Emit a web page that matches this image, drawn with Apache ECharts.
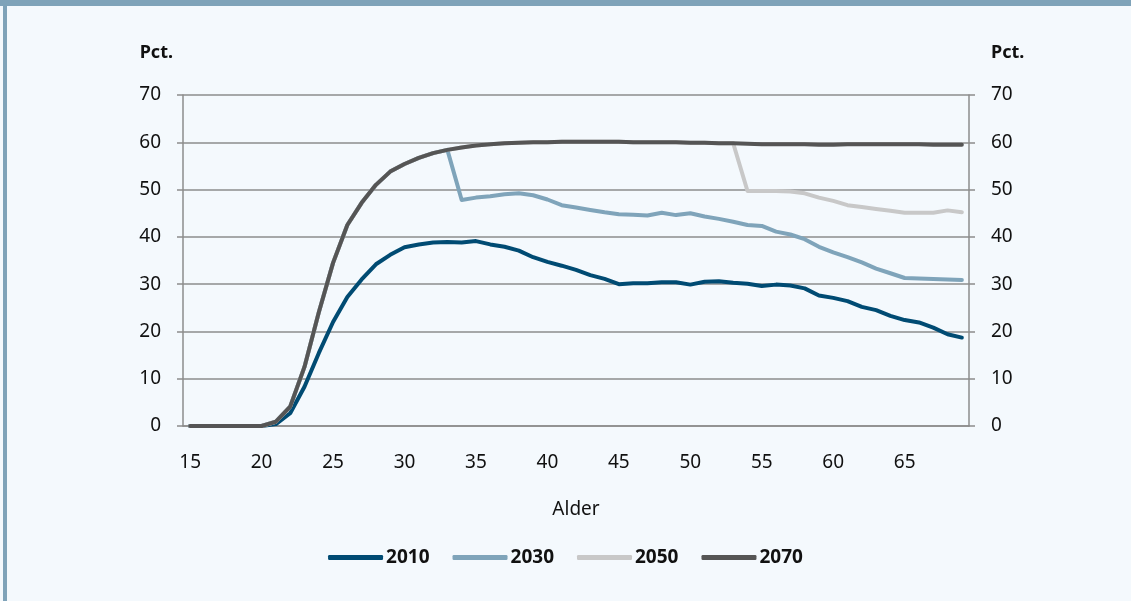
<!DOCTYPE html>
<html>
<head>
<meta charset="utf-8">
<style>
	body { margin: 0; }
	.frame {
		position: relative;
		width: 1131px;
		height: 601px;
		background: #f4f9fd;
		overflow: hidden;
	}
	.frame .bar-top {
		position: absolute;
		left: 0; top: 0;
		width: 100%; height: 6px;
		background: #7fa3b9;
	}
	.frame .bar-left {
		position: absolute;
		left: 3px; top: 0;
		width: 4px; height: 100%;
		background: #7fa3b9;
	}
	#chart { position: absolute; left: 0; top: 0; width: 1131px; height: 601px; }
</style>
<script src="https://cdn.jsdelivr.net/npm/echarts@6/dist/echarts.min.js"></script>
</head>
<body>
<div class="frame">
	<div class="bar-top"></div>
	<div class="bar-left"></div>
	<div id="chart"></div>
</div>
<script>
	// Alder 15-69
	var ages = ['15','16','17','18','19','20','21','22','23','24','25','26','27','28','29','30','31','32','33','34','35','36','37','38','39','40','41','42','43','44','45','46','47','48','49','50','51','52','53','54','55','56','57','58','59','60','61','62','63','64','65','66','67','68','69']

	var s2010 = [0,0,0,0,0,0,0.4,2.7,8.3,15.4,22,27.3,31,34.2,36.2,37.8,38.4,38.8,38.9,38.8,39.1,38.4,37.9,37.1,35.7,34.7,33.9,33,31.9,31.1,30,30.2,30.2,30.4,30.4,29.9,30.5,30.6,30.3,30.1,29.6,29.9,29.7,29.1,27.6,27.1,26.4,25.2,24.5,23.3,22.4,21.9,20.8,19.4,18.7]

	var s2030 = [0,0,0,0,0,0,0.9,4.1,12.5,24,34.5,42.5,47.2,51,53.8,55.4,56.7,57.7,58.4,47.8,48.3,48.6,49,49.2,48.8,47.9,46.7,46.2,45.7,45.2,44.8,44.7,44.5,45.1,44.6,45,44.3,43.8,43.2,42.5,42.3,41.1,40.5,39.5,37.9,36.7,35.7,34.6,33.3,32.3,31.3,31.2,31.1,31,30.9]

	var s2050 = [0,0,0,0,0,0,0.9,4.1,12.5,24,34.5,42.5,47.2,51,53.8,55.4,56.7,57.7,58.4,58.9,59.3,59.6,59.8,59.9,60,60,60.1,60.1,60.1,60.1,60.1,60,60,60,60,59.9,59.9,59.8,59.8,49.7,49.7,49.7,49.6,49.2,48.3,47.6,46.7,46.3,45.9,45.5,45.1,45.1,45.1,45.6,45.2]

	var s2070 = [0,0,0,0,0,0,0.9,4.1,12.5,24,34.5,42.5,47.2,51,53.8,55.4,56.7,57.7,58.4,58.9,59.3,59.6,59.8,59.9,60,60,60.1,60.1,60.1,60.1,60.1,60,60,60,60,59.9,59.9,59.8,59.8,59.7,59.6,59.6,59.6,59.6,59.5,59.5,59.6,59.6,59.6,59.6,59.6,59.6,59.5,59.5,59.5]

	var seriesNames = ['2010', '2030', '2050', '2070']
	var seriesData = [s2010, s2030, s2050, s2070]
	var colors = ['#004b73', '#7fa4ba', '#c8c8c8', '#555555']

	var font = '"Noto Sans", "Open Sans", sans-serif'
	var axisGray = '#8c8c8c'

	function valueAxis(side) {
		return {
			type: 'value',
			position: side,
			min: 0,
			max: 70,
			interval: 10,
			name: 'Pct.',
			nameLocation: 'end',
			nameGap: 33,
			nameTextStyle: {
				fontFamily: font,
				fontSize: 18,
				fontWeight: 'bold',
				color: '#111',
				align: side === 'left' ? 'right' : 'left',
				padding: side === 'left' ? [0, 10, 0, 0] : [0, 0, 0, 22]
			},
			axisLine: { show: true, lineStyle: { color: axisGray, width: 1.5 } },
			axisTick: { show: true, length: 6, lineStyle: { color: axisGray, width: 1.5 } },
			axisLabel: { margin: 22, fontFamily: font, fontSize: 19, color: '#111' },
			splitLine: { show: side === 'left', lineStyle: { color: axisGray, width: 1.5 } }
		}
	}

	var chart = echarts.init(document.getElementById('chart'))
	var series = []
	for (var i = 0; i < seriesNames.length; i++) {
		series.push({
			name: seriesNames[i],
			type: 'line',
			yAxisIndex: 0,
			data: seriesData[i],
			symbol: 'none',
			color: colors[i],
			lineStyle: { width: 4, color: colors[i], cap: 'round', join: 'round' },
			animation: false
		})
	}

	chart.setOption({
		animation: false,
		backgroundColor: 'transparent',
		grid: { left: 183, right: 162, top: 95, bottom: 175 },
		legend: {
			data: seriesNames,
			bottom: 29,
			left: 'center',
			icon: 'roundRect',
			itemWidth: 55,
			itemHeight: 5,
			itemGap: 23,
			textStyle: { fontFamily: font, fontSize: 19, fontWeight: 'bold', color: '#111', padding: [0, 0, 0, -2] }
		},
		xAxis: {
			type: 'category',
			data: ages,
			boundaryGap: true,
			name: 'Alder',
			nameLocation: 'middle',
			nameGap: 74,
			nameTextStyle: { fontFamily: font, fontSize: 19, color: '#111' },
			axisLine: { lineStyle: { color: axisGray, width: 1.5 } },
			axisTick: { interval: 4, length: 6, lineStyle: { color: axisGray, width: 1.5 } },
			axisLabel: { interval: 4, margin: 27, fontFamily: font, fontSize: 19, color: '#111' }
		},
		yAxis: [valueAxis('left'), valueAxis('right')],
		series: series
	})
</script>
</body>
</html>
